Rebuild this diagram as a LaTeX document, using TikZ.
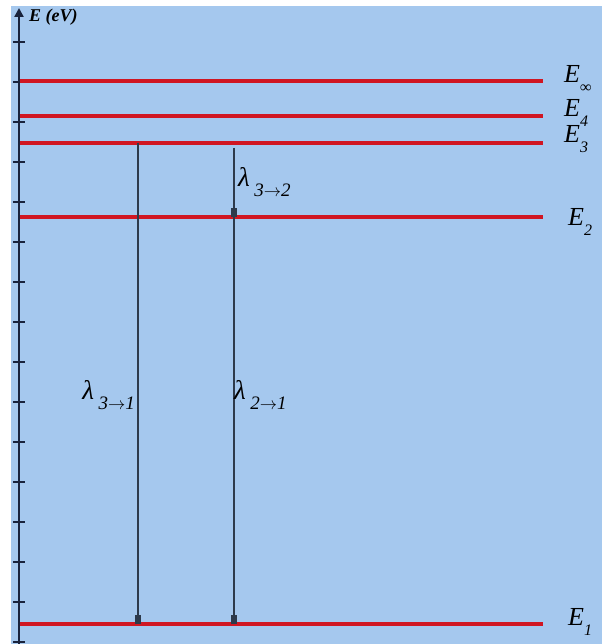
\documentclass[tikz,border=0pt]{standalone}
\usepackage{fontspec}
\setmainfont{Liberation Serif}
\usetikzlibrary{arrows.meta}

\definecolor{bgblue}{RGB}{165,200,238}
\definecolor{levelred}{RGB}{208,22,34}
\definecolor{axisdark}{RGB}{25,35,60}
\definecolor{transdark}{RGB}{45,58,75}

\newcommand{\lam}[2]{\textit{λ}\,\raisebox{-0.8ex}{\fontsize{19}{19}\selectfont\textit{#1}$\rightarrow$\textit{#2}}}
\newcommand{\lev}[1]{\textit{E}\raisebox{-0.8ex}{\fontsize{16}{16}\selectfont\textit{#1}}}

\tikzset{
  level/.style={levelred, line width=4.5pt},
  trans/.style={transdark, line width=2.6pt, -{Rectangle[length=9pt,width=6pt]}},
  tick/.style={axisdark, line width=1.5pt},
  levlabel/.style={anchor=west, inner sep=0pt, font=\fontsize{26}{26}\selectfont},
  lamlabel/.style={inner sep=0pt, font=\fontsize{27}{27}\selectfont}
}

\begin{document}
\begin{tikzpicture}[x=1pt, y=-1pt]

\useasboundingbox (0,0) rectangle (602,644);
\fill[bgblue] (11,6) rectangle (602,644);

% axis
\coordinate (axbot) at (19,644);
\coordinate (axtop) at (19,8);
\draw[axisdark, line width=2.6pt, -{Triangle[length=9pt,width=9pt]}] (axbot) -- (axtop);
\node[anchor=west, inner sep=0pt, font=\fontsize{18}{18}\selectfont\bfseries\itshape] (axlab) at (29,17) {E (eV)};

\foreach \y in {42,82,...,642}
{
    \draw[tick] (13,\y) -- (25,\y);
}

% levels
\foreach \name/\y in {inf/81,four/116,three/143,two/217,one/624}
{
    \coordinate (\name L) at (20,\y);
    \coordinate (\name R) at (543,\y);
    \draw[level] (\name L) -- (\name R);
}

\node[levlabel] (Einf) at (564,79) {\lev{∞}};
\node[levlabel] (Efour) at (564,113) {\lev{4}};
\node[levlabel] (Ethree) at (564,139) {\lev{3}};
\node[levlabel] (Etwo) at (568,222) {\lev{2}};
\node[levlabel] (Eone) at (568,622) {\lev{1}};

% transitions
\coordinate (t31a) at (138,143);
\coordinate (t31b) at (138,624);
\coordinate (t32a) at (234,148);
\coordinate (t32b) at (234,217);
\coordinate (t21b) at (234,624);

\draw[trans] (t31a) -- (t31b);
\draw[trans] (t32a) -- (t32b);
\draw[trans] (t32b) -- (t21b);

\node[lamlabel, anchor=west] (l32) at (238,182) {\lam{3}{2}};
\node[lamlabel, anchor=east] (l31) at (135,395) {\lam{3}{1}};
\node[lamlabel, anchor=west] (l21) at (234,395) {\lam{2}{1}};

\end{tikzpicture}
\end{document}
